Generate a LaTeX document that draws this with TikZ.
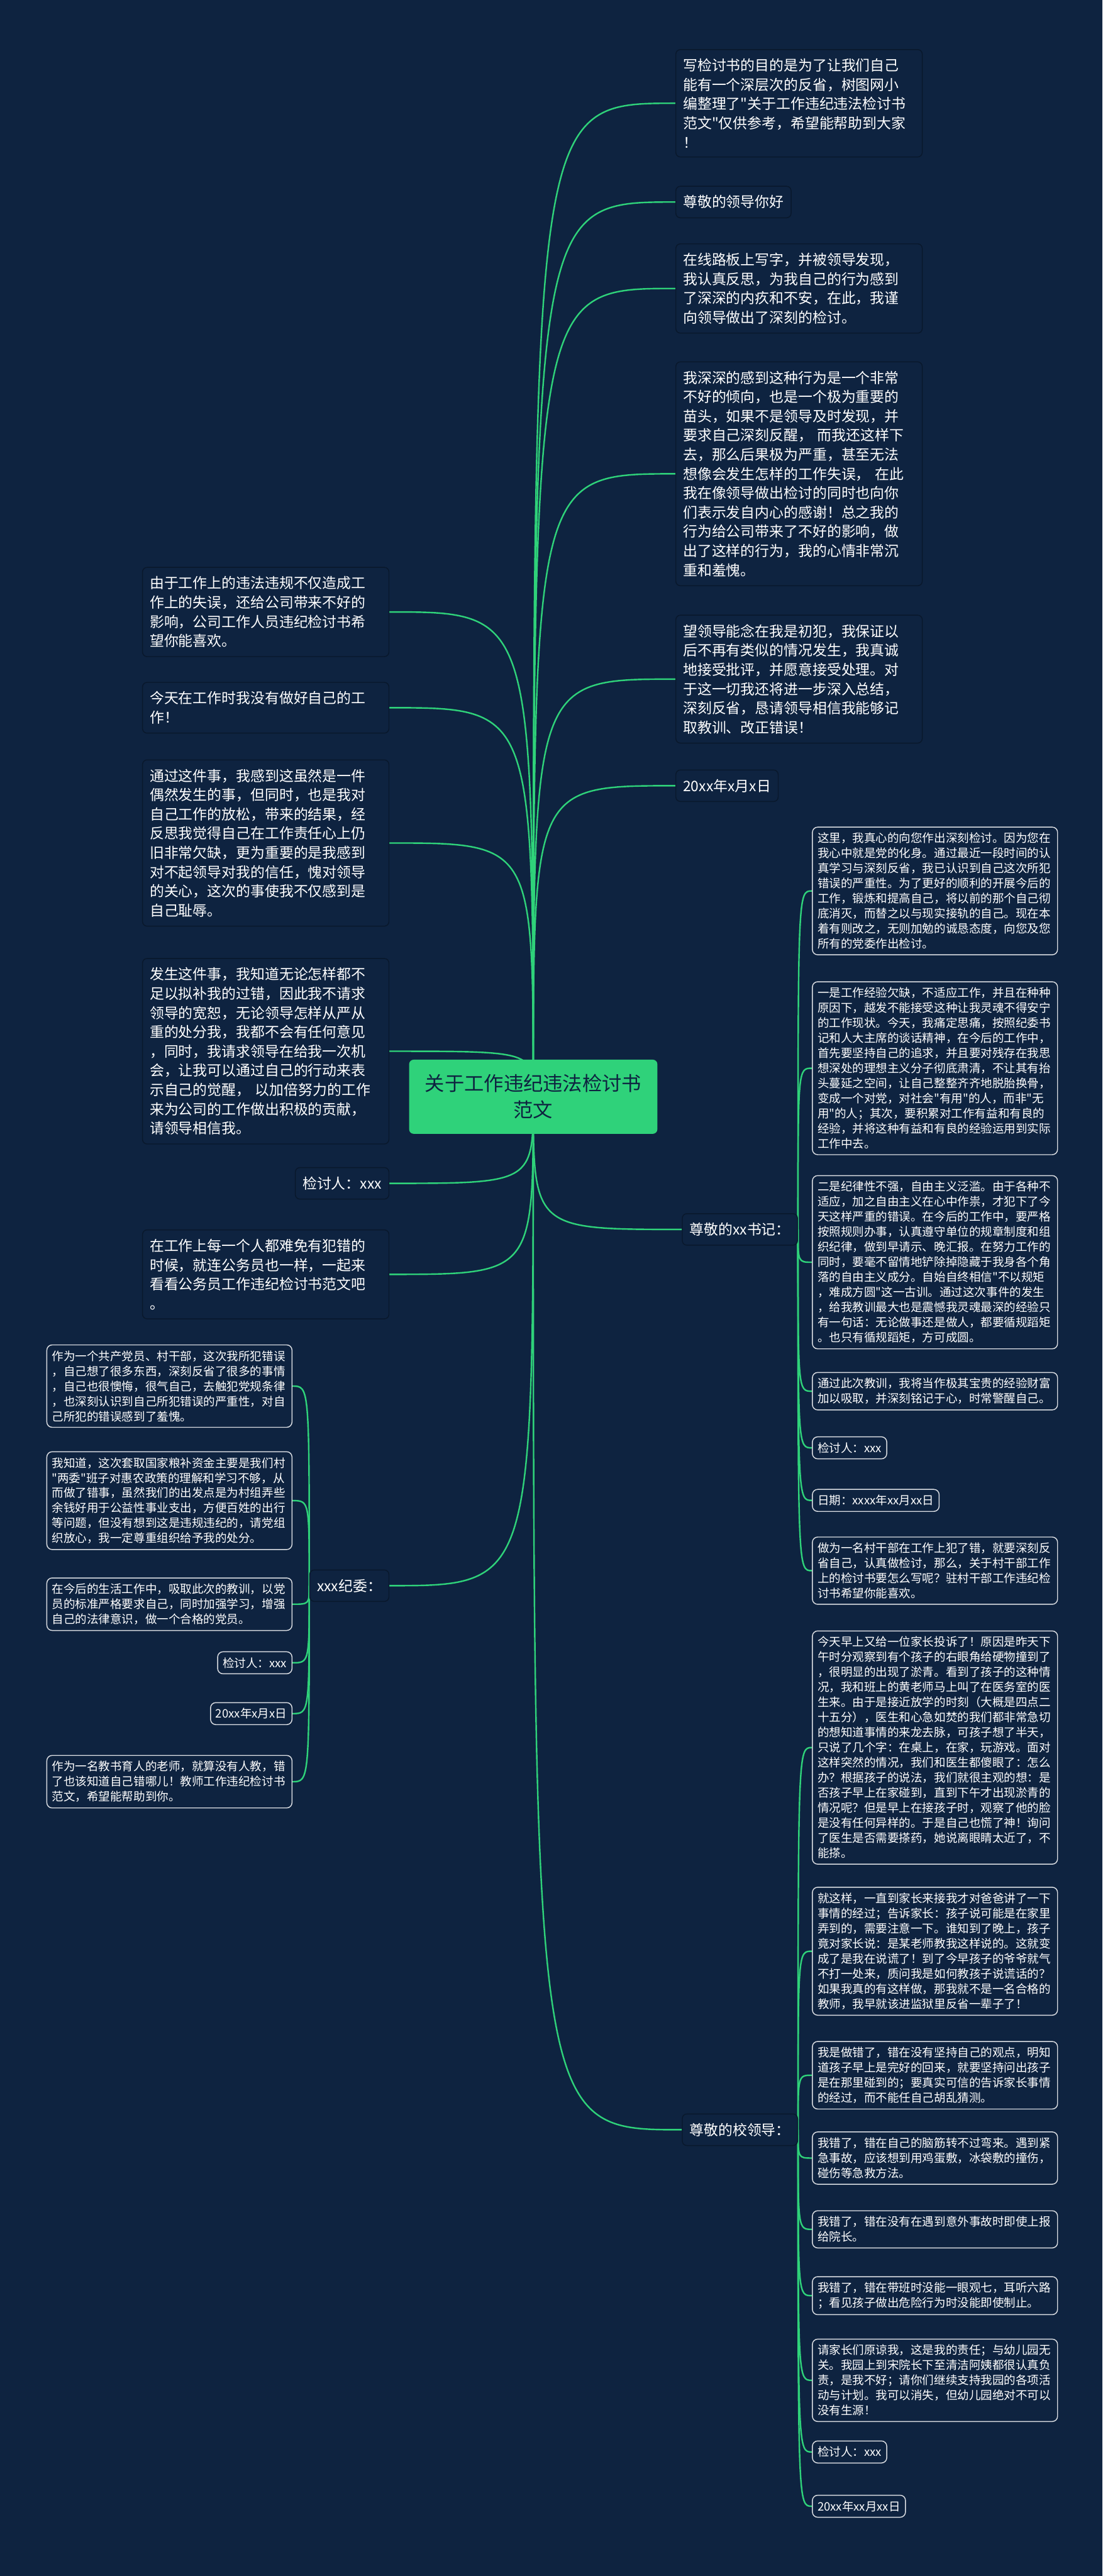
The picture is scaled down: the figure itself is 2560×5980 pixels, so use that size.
\documentclass[tikz,border=0pt]{standalone}
\usepackage{fontspec}
\newfontfamily\cjk{Noto Sans CJK SC}
\usepackage{tikz}
\usetikzlibrary{positioning,backgrounds}
\usepackage{xcolor}

\definecolor{navy}{HTML}{0E2340}
\definecolor{edgedark}{HTML}{09182C}
\definecolor{mapgreen}{HTML}{2FD27A}
\definecolor{boxline}{HTML}{DADDE2}

\tikzset{
  root/.style={fill=mapgreen, text=navy, rounded corners=3pt, align=center,
    font=\cjk\fontsize{13}{17.4}\selectfont, minimum width=5.76cm, minimum height=1.72cm},
  topic/.style={draw=edgedark, fill=navy, text=white, rounded corners=3pt, line width=0.6pt,
    font=\cjk\fontsize{9.5}{12.7}\selectfont, align=left, inner xsep=4.8pt, inner ysep=6pt},
  topicbox/.style={topic, text width=5.38cm},
  leaf/.style={draw=boxline, fill=navy, text=white, rounded corners=3.5pt, line width=0.6pt,
    font=\cjk\fontsize{7.7}{9.96}\selectfont, align=left, inner xsep=3.4pt, inner ysep=3.7pt},
  leafbox/.style={leaf, text width=5.45cm},
  link/.style={mapgreen, line width=1pt},
}

\begin{document}
\begin{tikzpicture}[x=0.01cm, y=-0.01cm]
    % Center topic
    \node[root] (ctr) at (1238,2546) {关于工作违纪违法检讨书\\范文};

    % Right branches
    \node[topicbox, anchor=north west] (r1) at (1568,114) {写检讨书的目的是为了让我们自己\\能有一个深层次的反省，树图网小\\编整理了"关于工作违纪违法检讨书\\范文"仅供参考，希望能帮助到大家\\！};
    \node[topic, anchor=west] (r2) at (1568,469) {尊敬的领导你好};
    \node[topicbox, anchor=north west] (r3) at (1568,565) {在线路板上写字，并被领导发现，\\我认真反思，为我自己的行为感到\\了深深的内疚和不安，在此，我谨\\向领导做出了深刻的检讨。};
    \node[topicbox, anchor=north west] (r4) at (1568,839) {我深深的感到这种行为是一个非常\\不好的倾向，也是一个极为重要的\\苗头，如果不是领导及时发现，并\\要求自己深刻反醒， 而我还这样下\\去，那么后果极为严重，甚至无法\\想像会发生怎样的工作失误， 在此\\我在像领导做出检讨的同时也向你\\们表示发自内心的感谢！总之我的\\行为给公司带来了不好的影响，做\\出了这样的行为，我的心情非常沉\\重和羞愧。};
    \node[topicbox, anchor=north west] (r5) at (1568,1427) {望领导能念在我是初犯，我保证以\\后不再有类似的情况发生，我真诚\\地接受批评，并愿意接受处理。对\\于这一切我还将进一步深入总结，\\深刻反省，恳请领导相信我能够记\\取教训、改正错误！};
    \node[topic, anchor=west] (r6) at (1568,1824) {20xx年x月x日};
    \node[topic, anchor=west] (r7) at (1583,2854) {尊敬的xx书记：};
    \node[topic, anchor=west] (r8) at (1583,4944) {尊敬的校领导：};

    % Left branches
    \node[topicbox, anchor=north east] (l1) at (904,1316) {由于工作上的违法违规不仅造成工\\作上的失误，还给公司带来不好的\\影响，公司工作人员违纪检讨书希\\望你能喜欢。};
    \node[topicbox, anchor=north east] (l2) at (904,1583) {今天在工作时我没有做好自己的工\\作！};
    \node[topicbox, anchor=north east] (l3) at (904,1763) {通过这件事，我感到这虽然是一件\\偶然发生的事，但同时，也是我对\\自己工作的放松，带来的结果，经\\反思我觉得自己在工作责任心上仍\\旧非常欠缺，更为重要的是我感到\\对不起领导对我的信任，愧对领导\\的关心，这次的事使我不仅感到是\\自己耻辱。};
    \node[topicbox, anchor=north east] (l4) at (904,2224) {发生这件事，我知道无论怎样都不\\足以拟补我的过错，因此我不请求\\领导的宽恕，无论领导怎样从严从\\重的处分我，我都不会有任何意见\\，同时，我请求领导在给我一次机\\会，让我可以通过自己的行动来表\\示自己的觉醒， 以加倍努力的工作\\来为公司的工作做出积极的贡献，\\请领导相信我。};
    \node[topic, anchor=east] (l5) at (904,2747) {检讨人：xxx};
    \node[topicbox, anchor=north east] (l6) at (904,2854) {在工作上每一个人都难免有犯错的\\时候，就连公务员也一样，一起来\\看看公务员工作违纪检讨书范文吧\\。};
    \node[topic, anchor=east] (l7) at (904,3681) {xxx纪委：};

    % xxx纪委 leaves
    \node[leafbox, anchor=north east] (f1) at (679,3121) {作为一个共产党员、村干部，这次我所犯错误\\，自己想了很多东西，深刻反省了很多的事情\\，自己也很懊悔，很气自己，去触犯党规条律\\，也深刻认识到自己所犯错误的严重性，对自\\己所犯的错误感到了羞愧。};
    \node[leafbox, anchor=north east] (f2) at (679,3369) {我知道，这次套取国家粮补资金主要是我们村\\"两委"班子对惠农政策的理解和学习不够，从\\而做了错事，虽然我们的出发点是为村组弄些\\余钱好用于公益性事业支出，方便百姓的出行\\等问题，但没有想到这是违规违纪的，请党组\\织放心，我一定尊重组织给予我的处分。};
    \node[leafbox, anchor=north east] (f3) at (679,3662) {在今后的生活工作中，吸取此次的教训，以党\\员的标准严格要求自己，同时加强学习，增强\\自己的法律意识，做一个合格的党员。};
    \node[leaf, anchor=east] (f4) at (679,3860) {检讨人：xxx};
    \node[leaf, anchor=east] (f5) at (679,3978) {20xx年x月x日};
    \node[leafbox, anchor=north east] (f6) at (679,4074) {作为一名教书育人的老师，就算没有人教，错\\了也该知道自己错哪儿！教师工作违纪检讨书\\范文，希望能帮助到你。};

    % 书记 leaves
    \node[leafbox, anchor=north west] (s1) at (1885,1919) {这里，我真心的向您作出深刻检讨。因为您在\\我心中就是党的化身。通过最近一段时间的认\\真学习与深刻反省，我已认识到自己这次所犯\\错误的严重性。为了更好的顺利的开展今后的\\工作，锻炼和提高自己，将以前的那个自己彻\\底消灭，而替之以与现实接轨的自己。现在本\\着有则改之，无则加勉的诚恳态度，向您及您\\所有的党委作出检讨。};
    \node[leafbox, anchor=north west] (s2) at (1885,2278) {一是工作经验欠缺，不适应工作，并且在种种\\原因下，越发不能接受这种让我灵魂不得安宁\\的工作现状。今天，我痛定思痛，按照纪委书\\记和人大主席的谈话精神，在今后的工作中，\\首先要坚持自己的追求，并且要对残存在我思\\想深处的理想主义分子彻底肃清，不让其有抬\\头蔓延之空间，让自己整整齐齐地脱胎换骨，\\变成一个对党，对社会"有用"的人，而非"无\\用"的人；其次，要积累对工作有益和有良的\\经验，并将这种有益和有良的经验运用到实际\\工作中去。};
    \node[leafbox, anchor=north west] (s3) at (1885,2728) {二是纪律性不强，自由主义泛滥。由于各种不\\适应，加之自由主义在心中作祟，才犯下了今\\天这样严重的错误。在今后的工作中，要严格\\按照规则办事，认真遵守单位的规章制度和组\\织纪律，做到早请示、晚汇报。在努力工作的\\同时，要毫不留情地铲除掉隐藏于我身各个角\\落的自由主义成分。自始自终相信"不以规矩\\，难成方圆"这一古训。通过这次事件的发生\\，给我教训最大也是震憾我灵魂最深的经验只\\有一句话：无论做事还是做人，都要循规蹈矩\\。也只有循规蹈矩，方可成圆。};
    \node[leafbox, anchor=north west] (s4) at (1885,3185) {通过此次教训，我将当作极其宝贵的经验财富\\加以吸取，并深刻铭记于心，时常警醒自己。};
    \node[leaf, anchor=west] (s5) at (1885,3361) {检讨人：xxx};
    \node[leaf, anchor=west] (s6) at (1885,3483) {日期：xxxx年xx月xx日};
    \node[leafbox, anchor=north west] (s7) at (1885,3567) {做为一名村干部在工作上犯了错，就要深刻反\\省自己，认真做检讨，那么，关于村干部工作\\上的检讨书要怎么写呢？驻村干部工作违纪检\\讨书希望你能喜欢。};

    % 校领导 leaves
    \node[leafbox, anchor=north west] (t1) at (1885,3785) {今天早上又给一位家长投诉了！原因是昨天下\\午时分观察到有个孩子的右眼角给硬物撞到了\\，很明显的出现了淤青。看到了孩子的这种情\\况，我和班上的黄老师马上叫了在医务室的医\\生来。由于是接近放学的时刻（大概是四点二\\十五分），医生和心急如焚的我们都非常急切\\的想知道事情的来龙去脉，可孩子想了半天，\\只说了几个字：在桌上，在家，玩游戏。面对\\这样突然的情况，我们和医生都傻眼了：怎么\\办？根据孩子的说法，我们就很主观的想：是\\否孩子早上在家碰到，直到下午才出现淤青的\\情况呢？但是早上在接孩子时，观察了他的脸\\是没有任何异样的。于是自己也慌了神！询问\\了医生是否需要搽药，她说离眼睛太近了，不\\能搽。};
    \node[leafbox, anchor=north west] (t2) at (1885,4380) {就这样，一直到家长来接我才对爸爸讲了一下\\事情的经过；告诉家长：孩子说可能是在家里\\弄到的，需要注意一下。谁知到了晚上，孩子\\竟对家长说：是某老师教我这样说的。这就变\\成了是我在说谎了！到了今早孩子的爷爷就气\\不打一处来，质问我是如何教孩子说谎话的？\\如果我真的有这样做，那我就不是一名合格的\\教师，我早就该进监狱里反省一辈子了！};
    \node[leafbox, anchor=north west] (t3) at (1885,4738) {我是做错了，错在没有坚持自己的观点，明知\\道孩子早上是完好的回来，就要坚持问出孩子\\是在那里碰到的；要真实可信的告诉家长事情\\的经过，而不能任自己胡乱猜测。};
    \node[leafbox, anchor=north west] (t4) at (1885,4948) {我错了，错在自己的脑筋转不过弯来。遇到紧\\急事故，应该想到用鸡蛋敷，冰袋敷的撞伤，\\碰伤等急救方法。};
    \node[leafbox, anchor=north west] (t5) at (1885,5131) {我错了，错在没有在遇到意外事故时即使上报\\给院长。};
    \node[leafbox, anchor=north west] (t6) at (1885,5284) {我错了，错在带班时没能一眼观七，耳听六路\\；看见孩子做出危险行为时没能即使制止。};
    \node[leafbox, anchor=north west] (t7) at (1885,5429) {请家长们原谅我，这是我的责任；与幼儿园无\\关。我园上到宋院长下至清洁阿姨都很认真负\\责，是我不好；请你们继续支持我园的各项活\\动与计划。我可以消失，但幼儿园绝对不可以\\没有生源！};
    \node[leaf, anchor=west] (t8) at (1885,5692) {检讨人：xxx};
    \node[leaf, anchor=west] (t9) at (1885,5818) {20xx年xx月xx日};

    % Connectors, behind the boxes
    \begin{scope}[on background layer]
        \fill[navy] (0,0) rectangle (2560,5980);
        \foreach \n in {r1,r2,r3,r4,r5,r6,r7,r8}
            \draw[link] (ctr.center) .. controls (ctr.center |- \n.west) .. (\n.west);
        \foreach \n in {l1,l2,l3,l4,l5,l6,l7}
            \draw[link] (ctr.center) .. controls (ctr.center |- \n.east) .. (\n.east);
        \foreach \n in {s1,s2,s3,s4,s5,s6,s7}
            \draw[link] (r7.east) .. controls (r7.east |- \n.west) .. (\n.west);
        \foreach \n in {t1,t2,t3,t4,t5,t6,t7,t8,t9}
            \draw[link] (r8.east) .. controls (r8.east |- \n.west) .. (\n.west);
        \foreach \n in {f1,f2,f3,f4,f5,f6}
            \draw[link] (l7.west) .. controls (l7.west |- \n.east) .. (\n.east);
    \end{scope}
\end{tikzpicture}
\end{document}
